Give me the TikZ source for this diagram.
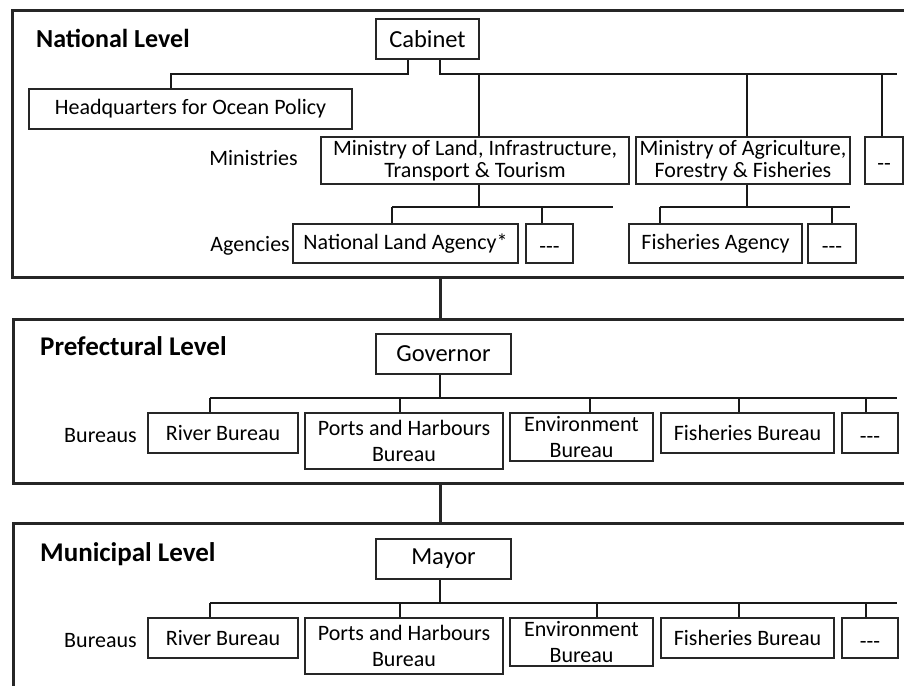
\documentclass[tikz,border=0pt]{standalone}
\usepackage{fontspec}
\setmainfont{Carlito}
\newcommand{\lowdash}[1]{\raisebox{-5pt}{#1}}
\begin{document}
\begin{tikzpicture}[x=1pt,y=-1pt,
  box/.style={draw=black!85, line width=1.1pt, inner sep=0pt, align=center, font=\fontsize{22}{22}\selectfont},
  boxw/.style={box, font=\fontsize{22}{26.5}\selectfont},
  headbox/.style={box, font=\fontsize{24.5}{24.5}\selectfont},
  dbox/.style={draw=black!85, line width=1.1pt, inner sep=0pt, text height=15pt, text depth=5pt, font=\fontsize{22}{22}\selectfont},
  conn/.style={draw=black!90, line width=1.8pt},
  frm/.style={draw=black!85, line width=3pt},
  title/.style={font=\bfseries\fontsize{26}{26}\selectfont, anchor=base west, inner sep=0pt},
  titleb/.style={title, font=\bfseries\fontsize{27}{27}\selectfont},
  lbl/.style={font=\fontsize{22}{22}\selectfont, anchor=base east, inner sep=0pt}]
\useasboundingbox (0,0) rectangle (904,685);
\clip (0,0) rectangle (904,685);
% frames
\draw[frm] (12,11) rectangle (930,277);
\draw[frm] (13,319) rectangle (930,483);
\draw[frm] (13,523) rectangle (930,720);
\coordinate (natB) at (440,277);
\coordinate (preT) at (440,319);
\coordinate (preB) at (440,483);
\coordinate (munT) at (440,523);
\draw[frm] (natB) -- (preT);
\draw[frm] (preB) -- (munT);

% ---------------- National level
\node[title] (tnat) at (36,48) {National Level};
\node[headbox, minimum width=103pt, minimum height=40pt] (cab) at (427.5,39) {Cabinet};
\node[box, minimum width=323pt, minimum height=40pt] (hq) at (190.5,109) {Headquarters for Ocean Policy};
\node[lbl] (lmin) at (298,165) {Ministries};
\node[box, minimum width=308pt, minimum height=47pt] (mlit) at (475,160.5) {Ministry of Land, Infrastructure,\\Transport \& Tourism};
\node[box, minimum width=214pt, minimum height=47pt] (maff) at (743,160.5) {Ministry of Agriculture,\\Forestry \& Fisheries};
\node[dbox, minimum width=38pt, minimum height=47pt] (mdash) at (884,160.5) {\lowdash{-{}-}};
\node[lbl] (lag) at (290,251) {Agencies};
\node[box, minimum width=225pt, minimum height=39pt] (nla) at (405.5,243.5) {National Land Agency*};
\node[dbox, minimum width=47pt, minimum height=39pt] (ad1) at (549.5,243.5) {\lowdash{-{}-{}-}};
\node[box, minimum width=173pt, minimum height=39pt] (fa) at (715.5,243.5) {Fisheries Agency};
\node[dbox, minimum width=48pt, minimum height=39pt] (ad2) at (832,243.5) {\lowdash{-{}-{}-}};

\coordinate (c1) at (408,74);
\coordinate (c2) at (440,74);
\coordinate (h1) at (171,74);
\coordinate (cend) at (897,74);
\draw[conn] (c1 |- cab.south) -- (c1) -- (h1) -- (h1 |- hq.north);
\draw[conn] (c2 |- cab.south) -- (c2) -- (cend);
\coordinate (m1) at (479,74);
\coordinate (m2) at (747,74);
\coordinate (m3) at (882,74);
\draw[conn] (m1) -- (m1 |- mlit.north);
\draw[conn] (m2) -- (m2 |- maff.north);
\draw[conn] (m3) -- (m3 |- mdash.north);

\coordinate (a0) at (479,207);
\coordinate (a1) at (392,207);
\coordinate (a2) at (542,207);
\coordinate (a3) at (613,207);
\draw[conn] (a0 |- mlit.south) -- (a0);
\draw[conn] (a1) -- (a3);
\draw[conn] (a1) -- (a1 |- nla.north);
\draw[conn] (a2) -- (a2 |- ad1.north);

\coordinate (b0) at (747,207);
\coordinate (b1) at (660,207);
\coordinate (b2) at (832,207);
\coordinate (b3) at (850,207);
\draw[conn] (b0 |- maff.south) -- (b0);
\draw[conn] (b1) -- (b3);
\draw[conn] (b1) -- (b1 |- fa.north);
\draw[conn] (b2) -- (b2 |- ad2.north);

% ---------------- Prefectural level
\node[titleb] (tpre) at (40,355) {Prefectural Level};
\node[headbox, minimum width=135pt, minimum height=40pt] (gov) at (443.5,354) {Governor};
\node[lbl] (lbp) at (137,442) {Bureaus};
\node[box, minimum width=150pt, minimum height=40pt] (prv) at (223,433) {River Bureau};
\node[boxw, minimum width=198pt, minimum height=56pt] (ppo) at (404,441) {Ports and Harbours\\Bureau};
\node[boxw, minimum width=143pt, minimum height=48pt] (pen) at (581.5,437) {Environment\\Bureau};
\node[box, minimum width=173pt, minimum height=40pt] (pfi) at (747.5,433) {Fisheries Bureau};
\node[dbox, minimum width=56pt, minimum height=40pt] (pda) at (870,433) {\lowdash{-{}-{}-}};

\coordinate (p0) at (440,398);
\coordinate (p1) at (210,398);
\coordinate (p2) at (400,398);
\coordinate (p3) at (590,398);
\coordinate (p4) at (739,398);
\coordinate (p5) at (866,398);
\coordinate (p6) at (897,398);
\draw[conn] (p0 |- gov.south) -- (p0);
\draw[conn] (p1) -- (p6);
\draw[conn] (p1) -- (p1 |- prv.north);
\draw[conn] (p2) -- (p2 |- ppo.north);
\draw[conn] (p3) -- (p3 |- pen.north);
\draw[conn] (p4) -- (p4 |- pfi.north);
\draw[conn] (p5) -- (p5 |- pda.north);

% ---------------- Municipal level
\node[titleb] (tmun) at (40,561) {Municipal Level};
\node[headbox, minimum width=135pt, minimum height=40pt] (may) at (443.5,559) {Mayor};
\node[lbl] (lbm) at (137,647) {Bureaus};
\node[box, minimum width=150pt, minimum height=40pt] (mrv) at (223,638) {River Bureau};
\node[boxw, minimum width=198pt, minimum height=56pt] (mpo) at (404,646) {Ports and Harbours\\Bureau};
\node[boxw, minimum width=143pt, minimum height=48pt] (men) at (581.5,642) {Environment\\Bureau};
\node[box, minimum width=173pt, minimum height=40pt] (mfi) at (747.5,638) {Fisheries Bureau};
\node[dbox, minimum width=56pt, minimum height=40pt] (mda) at (870,638) {\lowdash{-{}-{}-}};

\coordinate (q0) at (440,603);
\coordinate (q1) at (210,603);
\coordinate (q2) at (400,603);
\coordinate (q3) at (597,603);
\coordinate (q4) at (739,603);
\coordinate (q5) at (866,603);
\coordinate (q6) at (897,603);
\draw[conn] (q0 |- may.south) -- (q0);
\draw[conn] (q1) -- (q6);
\draw[conn] (q1) -- (q1 |- mrv.north);
\draw[conn] (q2) -- (q2 |- mpo.north);
\draw[conn] (q3) -- (q3 |- men.north);
\draw[conn] (q4) -- (q4 |- mfi.north);
\draw[conn] (q5) -- (q5 |- mda.north);
\end{tikzpicture}
\end{document}
